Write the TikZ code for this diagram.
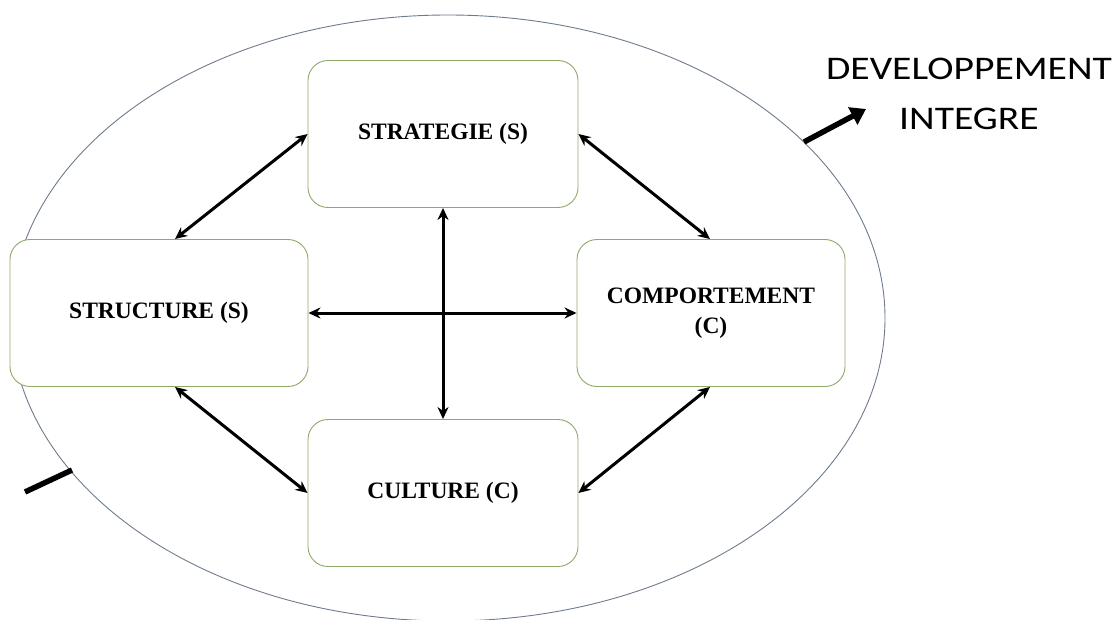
\documentclass[tikz,border=0pt]{standalone}
\usepackage{fontspec}
\setmainfont{Liberation Serif}
\newfontfamily\calib[FakeStretch=1.2]{Carlito}
\usetikzlibrary{arrows.meta,shapes.geometric}
\definecolor{boxgreen}{HTML}{8FA96A}
\definecolor{ellgray}{HTML}{6E7B8C}
\tikzset{
  box/.style={draw=boxgreen, line width=0.9pt, rounded corners=20pt, fill=white,
    minimum width=#1, minimum height=147pt, inner sep=0pt, align=center,
    font=\fontsize{23.5}{30}\selectfont\bfseries},
  box/.default=270pt,
  dbl/.style={{Stealth[length=12pt,width=11pt]}-{Stealth[length=12pt,width=11pt]}, line width=3pt},
  thick arrow/.style={line width=5.5pt, -{Triangle[length=15pt,width=19pt]}},
  lbl/.style={font=\calib\fontsize{33}{50}\selectfont, align=center}
}
\begin{document}
\begin{tikzpicture}[x=1pt,y=-1pt]
\useasboundingbox (0,0) rectangle (1118,620);
\node[draw=ellgray, line width=0.9pt, ellipse, minimum width=874pt, minimum height=606pt, inner sep=0pt] (ell) at (448,318) {};
\node[box] (strat) at (443,134) {STRATEGIE (S)};
\node[box=298pt] (struc) at (159,313) {STRUCTURE (S)};
\node[box=268pt] (comp) at (711,313) {COMPORTEMENT\\(C)};
\node[box] (cult) at (443,493) {CULTURE (C)};
\draw[dbl] (strat.south) -- (cult.north);
\draw[dbl] (struc.east) -- (comp.west);
\draw[dbl] (struc.north -| 175,0) -- (strat.west);
\draw[dbl] (strat.east) -- (comp.north -| 710,0);
\draw[dbl] (struc.south -| 175,0) -- (cult.west);
\draw[dbl] (comp.south -| 710,0) -- (cult.east);
\coordinate (inA) at (25,492);
\coordinate (inB) at (72,470);
\draw[line width=5.5pt] (inA) -- (inB);
\coordinate (outA) at (804,142);
\coordinate (outB) at (866,109);
\draw[thick arrow] (outA) -- (outB);
\node[lbl] (dev) at (969,94) {DEVELOPPEMENT\\INTEGRE};
\end{tikzpicture}
\end{document}
